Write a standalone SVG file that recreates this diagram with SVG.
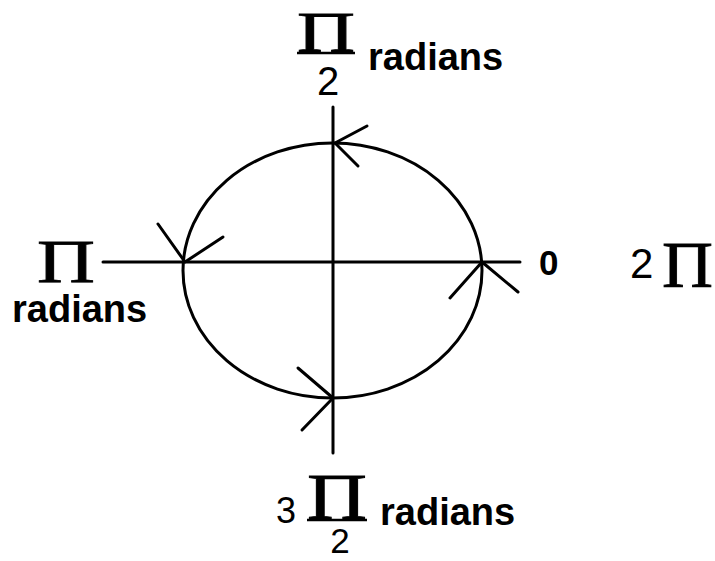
<svg xmlns="http://www.w3.org/2000/svg" width="715" height="561" viewBox="0 0 715 561">
<style>
.ln{stroke:#000;stroke-width:3;fill:none;stroke-linecap:round;stroke-linejoin:round}
.fr{stroke:#000;stroke-width:2.5;fill:none}
.pi{font-family:"Liberation Serif",serif;font-weight:normal;fill:#000;stroke:#000;stroke-width:0.8}
.rad{font-family:"Liberation Sans",Arial,sans-serif;font-weight:bold;font-size:38px;fill:#000}
.num{font-family:"Liberation Sans",Arial,sans-serif;fill:#000}
.b{font-weight:bold}
</style>
<rect width="715" height="561" fill="#fff"/>
<g id="connectors">
<line class="ln" x1="103" y1="262" x2="520" y2="262"/>
<line class="ln" x1="333" y1="107" x2="333" y2="453"/>
<polyline class="ln" points="367,126 335,143 358,166"/>
<polyline class="ln" points="158,224 185,262 223,237"/>
<polyline class="ln" points="450,298 482,262 518,292"/>
<polyline class="ln" points="298,368 333,398 302,430"/>
</g>
<g id="circle">
<ellipse class="ln" cx="332.5" cy="270.5" rx="149.5" ry="127.5"/>
</g>
<g id="label-top">
<text class="pi" x="297" y="52" font-size="58" textLength="58" lengthAdjust="spacingAndGlyphs">Π</text>
<line class="fr" x1="297" y1="53" x2="355" y2="53"/>
<text class="num" x="328" y="95" font-size="40" text-anchor="middle">2</text>
<text class="rad" x="368" y="70">radians</text>
</g>
<g id="label-left">
<text class="pi" x="37" y="282" font-size="62" textLength="58" lengthAdjust="spacingAndGlyphs">Π</text>
<text class="rad" x="12" y="322">radians</text>
</g>
<g id="label-zero">
<text class="num b" x="539" y="275" font-size="35">0</text>
</g>
<g id="label-2pi">
<text class="num" x="630" y="278" font-size="42">2</text>
<text class="pi" x="662" y="287" font-size="65" textLength="51" lengthAdjust="spacingAndGlyphs">Π</text>
</g>
<g id="label-bottom">
<text class="num" x="276" y="523" font-size="36">3</text>
<text class="pi" x="307" y="519" font-size="65" textLength="60" lengthAdjust="spacingAndGlyphs">Π</text>
<line class="fr" x1="307" y1="520" x2="367" y2="520"/>
<text class="num" x="340" y="553" font-size="35" text-anchor="middle">2</text>
<text class="rad" x="380" y="525">radians</text>
</g>
</svg>
